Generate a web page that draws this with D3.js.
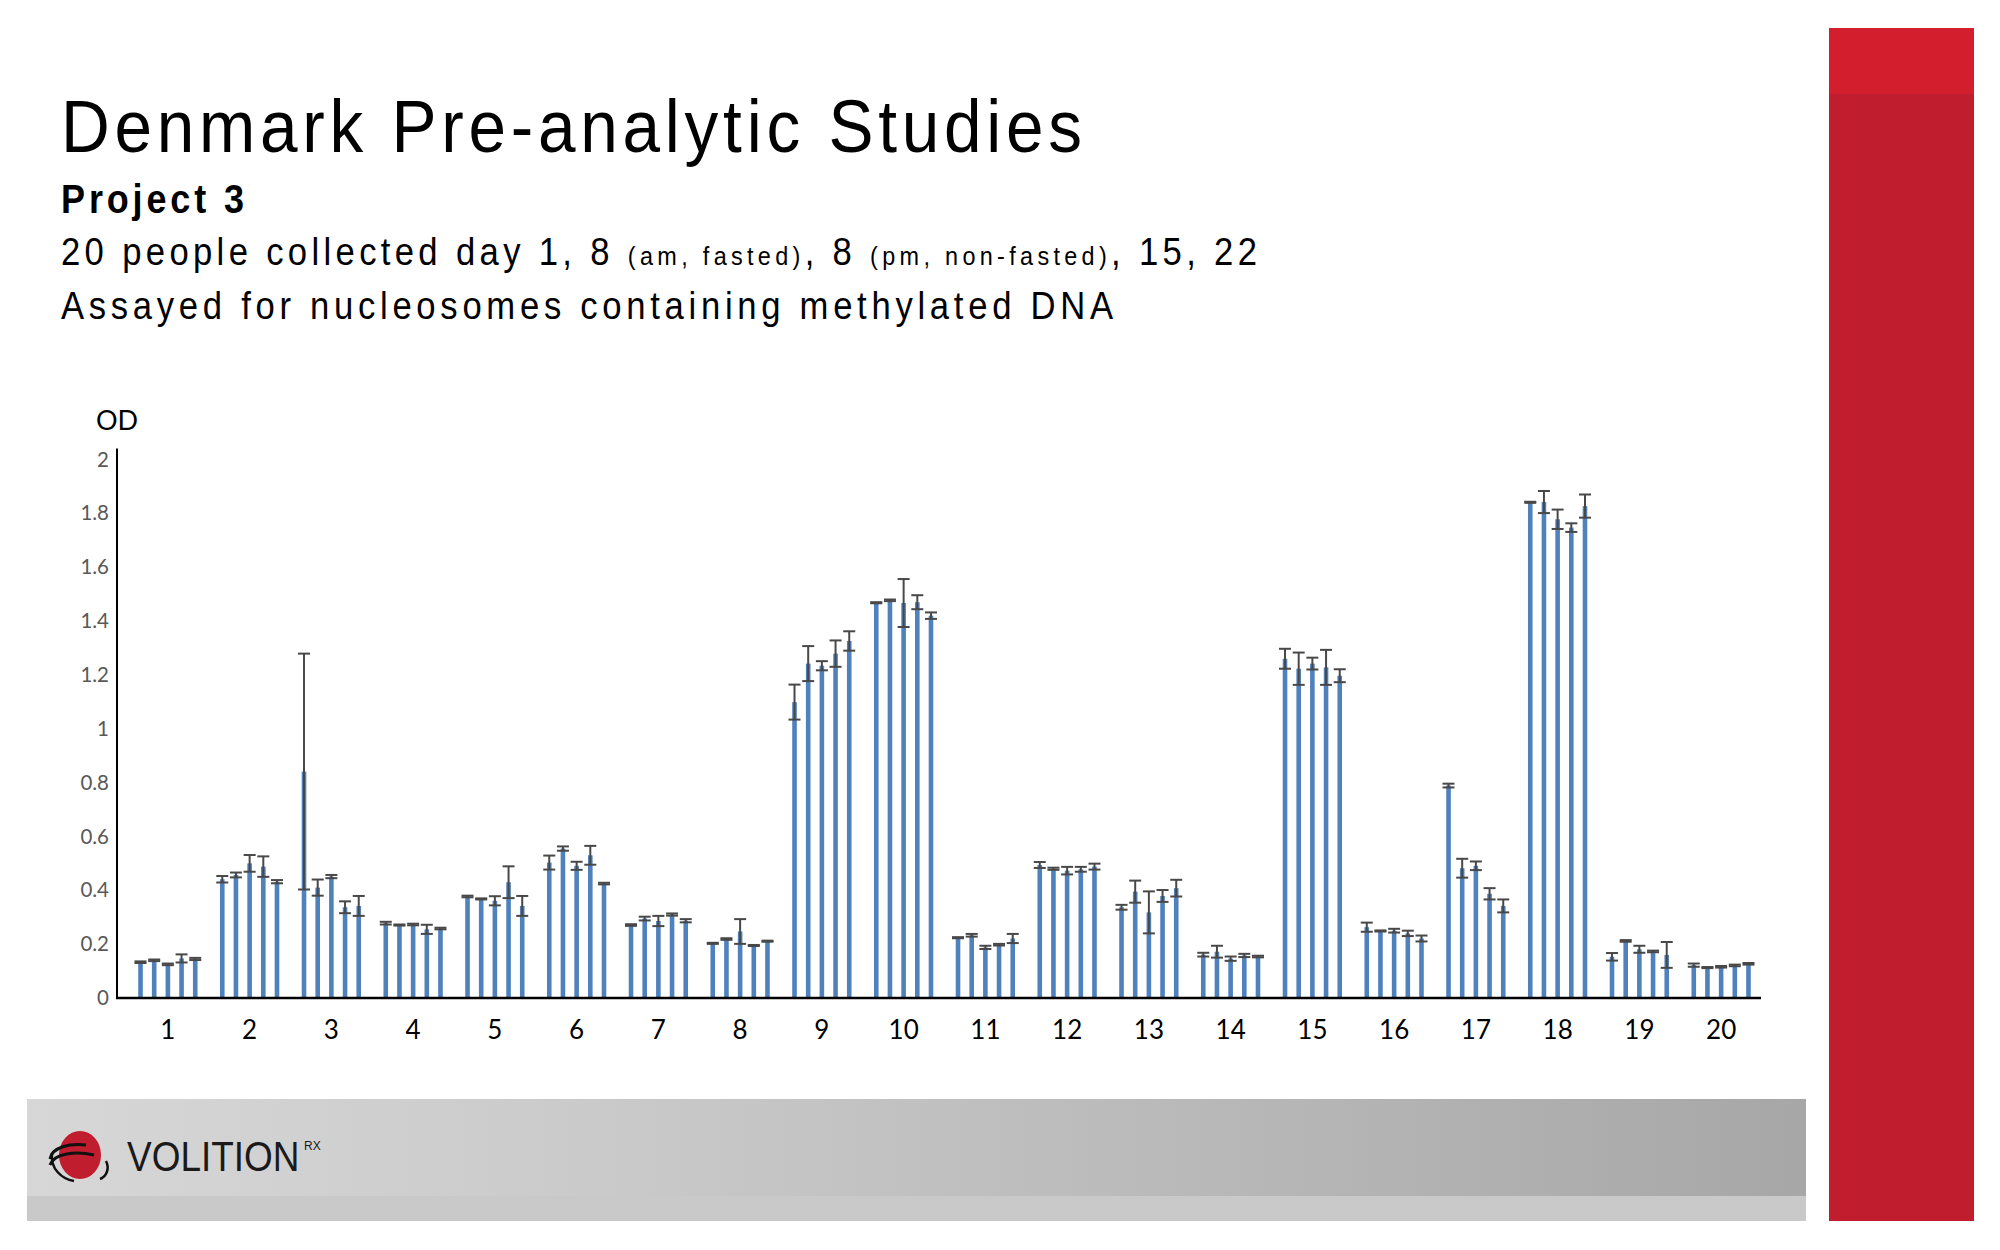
<!DOCTYPE html>
<html>
<head>
<meta charset="utf-8">
<script src="https://cdn.jsdelivr.net/npm/d3@7"></script>
<style>
  body { margin: 0; background: #fff; }
  svg { display: block; }
</style>
</head>
<body>
<svg id="chart" width="2000" height="1250"></svg>
<script>
// people 1..20, five collections each
var people = ["1","2","3","4","5","6","7","8","9","10","11","12","13","14","15","16","17","18","19","20"];
var series = ["day1", "day8am", "day8pm", "day15", "day22"];

var day1   = [0.133,0.441,0.841,0.278,0.377,0.503,0.271,0.203,1.099,1.468,0.224,0.494,0.337,0.161,1.260,0.263,0.789,1.841,0.153,0.122];
var day8am = [0.140,0.457,0.410,0.271,0.368,0.555,0.295,0.219,1.242,1.477,0.233,0.480,0.395,0.172,1.223,0.249,0.482,1.842,0.212,0.113];
var day8pm = [0.125,0.500,0.451,0.273,0.361,0.491,0.286,0.247,1.234,1.467,0.188,0.473,0.318,0.146,1.242,0.250,0.491,1.778,0.181,0.116];
var day15  = [0.147,0.488,0.337,0.255,0.430,0.530,0.310,0.195,1.279,1.470,0.198,0.478,0.379,0.158,1.228,0.240,0.387,1.747,0.173,0.121];
var day22  = [0.145,0.432,0.342,0.258,0.342,0.425,0.287,0.211,1.326,1.420,0.221,0.488,0.408,0.154,1.197,0.221,0.342,1.827,0.160,0.127];

var err1   = [0.003,0.012,0.438,0.005,0.003,0.026,0.003,0.002,0.065,0.002,0.002,0.011,0.009,0.007,0.037,0.017,0.007,0.002,0.014,0.006];
var err8am = [0.003,0.009,0.030,0.002,0.002,0.008,0.007,0.003,0.065,0.003,0.005,0.004,0.041,0.022,0.060,0.002,0.035,0.041,0.003,0.002];
var err8pm = [0.003,0.031,0.006,0.003,0.017,0.015,0.019,0.046,0.017,0.089,0.006,0.014,0.078,0.008,0.022,0.007,0.016,0.036,0.013,0.003];
var err15  = [0.015,0.038,0.022,0.017,0.059,0.035,0.004,0.002,0.049,0.026,0.003,0.009,0.022,0.006,0.065,0.010,0.021,0.016,0.003,0.003];
var err22  = [0.004,0.006,0.037,0.003,0.037,0.003,0.006,0.002,0.036,0.012,0.017,0.011,0.031,0.003,0.024,0.011,0.024,0.043,0.048,0.003];

var yTicks = [0, 0.2, 0.4, 0.6, 0.8, 1, 1.2, 1.4, 1.6, 1.8, 2];
var yTickLabels = ["0","0.2","0.4","0.6","0.8","1","1.2","1.4","1.6","1.8","2"];

var means = [day1, day8am, day8pm, day15, day22];
var errs = [err1, err8am, err8pm, err15, err22];

var svg = d3.select("#chart");

// ---- slide chrome ----
var defs = svg.append("defs");
var grad = defs.append("linearGradient").attr("id", "band").attr("x1", "0").attr("x2", "1");
grad.append("stop").attr("offset", "0").attr("stop-color", "#d7d7d7");
grad.append("stop").attr("offset", "0.3").attr("stop-color", "#cbcbcb");
grad.append("stop").attr("offset", "1").attr("stop-color", "#a7a7a7");

svg.append("rect").attr("x", 27).attr("y", 1099).attr("width", 1779).attr("height", 97).attr("fill", "url(#band)");
svg.append("rect").attr("x", 27).attr("y", 1196).attr("width", 1779).attr("height", 25).attr("fill", "#c9c9c9");

svg.append("rect").attr("x", 1829).attr("y", 28).attr("width", 145).attr("height", 1193).attr("fill", "#c01d2e");
svg.append("rect").attr("x", 1829).attr("y", 28).attr("width", 145).attr("height", 66).attr("fill", "#d21e2d");

// logo
var logo = svg.append("g").attr("transform", "translate(80,1155)");
logo.append("ellipse").attr("rx", 21).attr("ry", 24).attr("fill", "#c01d2e");
logo.append("path").attr("d", "M-30,4 C-28,-8 -10,-12 6,-10").attr("fill", "none").attr("stroke", "#111").attr("stroke-width", 3);
logo.append("path").attr("d", "M-30,10 C-26,-2 -4,-4 14,0").attr("fill", "none").attr("stroke", "#111").attr("stroke-width", 3);
logo.append("path").attr("d", "M-28,-2 C-30,14 -18,24 -6,26").attr("fill", "none").attr("stroke", "#111").attr("stroke-width", 2.5);
logo.append("path").attr("d", "M26,6 C30,14 26,22 20,24").attr("fill", "none").attr("stroke", "#111").attr("stroke-width", 2.5);
svg.append("g").attr("transform", "translate(127,1171) scale(0.86,1)")
  .append("text")
    .attr("font-family", "'Liberation Sans', Arial, sans-serif")
    .attr("font-size", 43).attr("fill", "#1a1a1a")
    .text("VOLITION");
svg.append("text").attr("x", 304).attr("y", 1150)
    .attr("font-family", "'Liberation Sans', Arial, sans-serif")
    .attr("font-size", 12).attr("fill", "#1a1a1a").text("RX");

// ---- header ----
// narrow look: squeeze Liberation Sans sideways, then spread letters to the measured width
var sans = "'Liberation Sans', Arial, sans-serif";
var squeeze = 0.9;

function headerLine(xp, yp, size, width, weight) {
  var g = svg.append("g").attr("transform", "translate(" + xp + "," + yp + ") scale(" + squeeze + ",1)");
  return g.append("text")
      .attr("font-family", sans).attr("font-size", size)
      .attr("font-weight", weight || "normal").attr("fill", "#000")
      .attr("textLength", width / squeeze).attr("lengthAdjust", "spacing");
}

headerLine(61, 152, 75, 1021).text("Denmark Pre-analytic Studies");
headerLine(61, 213, 40, 183, "bold").text("Project 3");

var line3 = headerLine(61, 264.5, 38.5, 1196);
line3.append("tspan").text("20 people collected day 1, 8 ");
line3.append("tspan").attr("font-size", 26).text("(am, fasted)");
line3.append("tspan").text(", 8 ");
line3.append("tspan").attr("font-size", 26).text("(pm, non-fasted)");
line3.append("tspan").text(", 15, 22");

headerLine(61, 318.5, 38.5, 1052).text("Assayed for nucleosomes containing methylated DNA");

// ---- chart ----
var axisFont = "Lato, 'Open Sans', sans-serif";

var x = d3.scaleBand().domain(people).range([127, 1762]);
var inner = d3.scaleBand().domain(series).range([-34.2, 34.2]);
var y = d3.scaleLinear().domain([0, 2]).range([998, 459.5]);
var barW = 4.6;

var yAxis = svg.append("g").attr("transform", "translate(117,0)")
    .call(d3.axisLeft(y).tickValues(yTicks).tickSize(0).tickPadding(8)
      .tickFormat(function(d, i) { return yTickLabels[i]; }));
yAxis.select(".domain").remove();
yAxis.selectAll("text").attr("font-family", axisFont).attr("font-size", 20.5).attr("fill", "#595959");

svg.append("text").attr("x", 96).attr("y", 430)
    .attr("font-family", axisFont).attr("font-size", 27).attr("fill", "#000").text("OD");

var groups = svg.append("g").selectAll("g")
    .data(people)
    .join("g")
    .attr("transform", function(d) { return "translate(" + (x(d) + x.bandwidth() / 2) + ",0)"; });

var cells = groups.selectAll("g")
    .data(function(d, i) {
      return series.map(function(s, k) { return {s: s, v: means[k][i], e: errs[k][i]}; });
    })
    .join("g")
    .attr("transform", function(d) { return "translate(" + (inner(d.s) + inner.bandwidth() / 2) + ",0)"; });

cells.append("rect")
    .attr("x", -barW / 2)
    .attr("width", barW)
    .attr("y", function(d) { return y(d.v); })
    .attr("height", function(d) { return y(0) - y(d.v); })
    .attr("fill", "#4f81bd");

// error bars
var ec = "#484848";
cells.append("line")
    .attr("y1", function(d) { return y(d.v - d.e); })
    .attr("y2", function(d) { return y(d.v + d.e); })
    .attr("stroke", ec).attr("stroke-width", 2);
cells.append("line")
    .attr("x1", -6).attr("x2", 6)
    .attr("y1", function(d) { return y(d.v + d.e); })
    .attr("y2", function(d) { return y(d.v + d.e); })
    .attr("stroke", ec).attr("stroke-width", 2);
cells.append("line")
    .attr("x1", -6).attr("x2", 6)
    .attr("y1", function(d) { return y(d.v - d.e); })
    .attr("y2", function(d) { return y(d.v - d.e); })
    .attr("stroke", ec).attr("stroke-width", 2);

// axes lines
svg.append("line").attr("x1", 117).attr("x2", 117).attr("y1", y(2) - 11).attr("y2", y(0) + 1)
    .attr("stroke", "#000").attr("stroke-width", 2);

var xAxis = svg.append("g").attr("transform", "translate(0," + y(0) + ")")
    .call(d3.axisBottom(x).tickSize(0).tickPadding(23));
xAxis.select(".domain").remove();
xAxis.selectAll("text").attr("font-family", axisFont).attr("font-size", 26).attr("fill", "#000");
svg.append("line").attr("x1", 116).attr("x2", 1761).attr("y1", y(0)).attr("y2", y(0))
    .attr("stroke", "#000").attr("stroke-width", 2.5);
</script>
</body>
</html>
